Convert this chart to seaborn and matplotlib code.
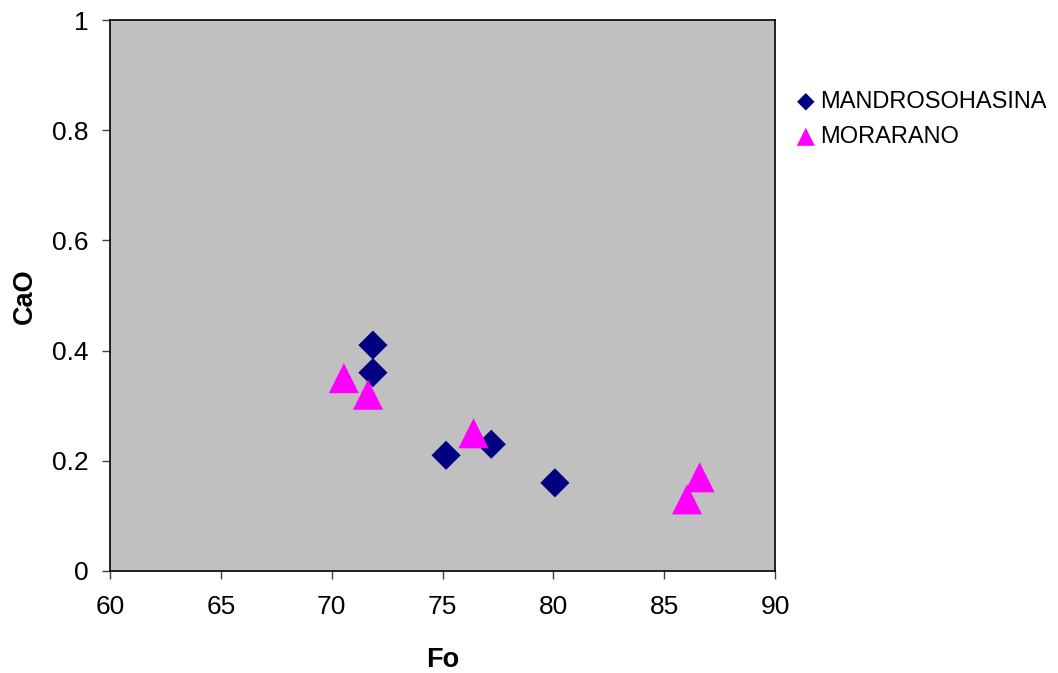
import pandas as pd
import matplotlib
matplotlib.use('Agg')
import matplotlib.pyplot as plt
import seaborn as sns

# Fo vs CaO for the two localities
mandro_fo = [71.86, 71.86, 75.16, 77.2, 80.07]
mandro_cao = [0.41, 0.36, 0.21, 0.23, 0.16]
morar_fo = [70.55, 71.64, 76.4, 86.6, 86.03]
morar_cao = [0.35, 0.32, 0.25, 0.17, 0.13]

df = pd.DataFrame({
    'Fo': mandro_fo + morar_fo,
    'CaO': mandro_cao + morar_cao,
    'site': ['MANDROSOHASINA'] * len(mandro_fo) + ['MORARANO'] * len(morar_fo),
})

sns.set_style('ticks')
plt.rcParams['font.family'] = ['Liberation Sans', 'DejaVu Sans']
plt.rcParams['text.color'] = 'black'
plt.rcParams['axes.labelcolor'] = 'black'

fig = plt.figure(figsize=(10.58, 6.73), dpi=100)
ax = fig.add_axes([110 / 1058, 1 - 571 / 673, 665 / 1058, 551 / 673])
ax.set_facecolor('#C0C0C0')

colors = {'MANDROSOHASINA': '#000080', 'MORARANO': '#FF00FF'}
markers = {'MANDROSOHASINA': 'D', 'MORARANO': '^'}
sizes = {'MANDROSOHASINA': 220, 'MORARANO': 470}
for name in ['MANDROSOHASINA', 'MORARANO']:
    sub = df[df['site'] == name]
    sns.scatterplot(x='Fo', y='CaO', data=sub, ax=ax, marker=markers[name],
                    color=colors[name], s=sizes[name],
                    edgecolor='none', label=name, zorder=3)

ax.set_xlim(60, 90)
ax.set_ylim(0, 1)
ax.set_xticks([60, 65, 70, 75, 80, 85, 90])
ax.set_yticks([0, 0.2, 0.4, 0.6, 0.8, 1])
ax.set_yticklabels(['0', '0.2', '0.4', '0.6', '0.8', '1'])
ax.tick_params(axis='both', labelsize=19, length=5.5, width=1, color='#404040',
               labelcolor='black', direction='out')
ax.tick_params(axis='x', pad=12)
ax.tick_params(axis='y', pad=10)
for sp in ax.spines.values():
    sp.set_visible(True)
    sp.set_color('black')
    sp.set_linewidth(1.2)

ax.set_xlabel('Fo', fontsize=19.5, fontweight='bold')
ax.set_ylabel('CaO', fontsize=19.5, fontweight='bold')
ax.xaxis.label.set_va('center')
ax.yaxis.label.set_va('center')
ax.xaxis.set_label_coords(443 / 1058, 1 - 660 / 673, transform=fig.transFigure)
ax.yaxis.set_label_coords(25 / 1058, 1 - 296 / 673, transform=fig.transFigure)

leg = ax.legend(loc='upper left', bbox_to_anchor=(794 / 1058, 1 - 91 / 673),
                bbox_transform=fig.transFigure, frameon=False, fontsize=17,
                handlelength=1.0, handletextpad=0.1, labelspacing=0.55,
                borderpad=0, borderaxespad=0, markerscale=0.6)

fig.savefig('out.png', dpi=100)
